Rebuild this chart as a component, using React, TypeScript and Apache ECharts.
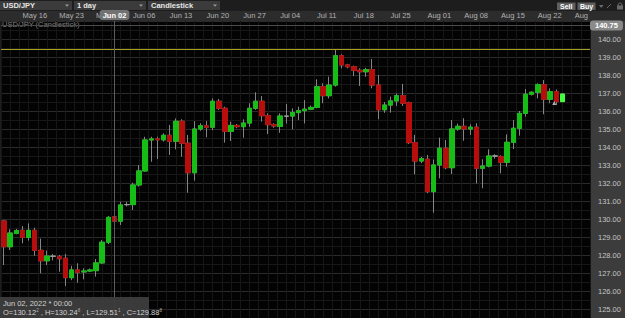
import React, { useEffect, useRef } from "react";
import * as echarts from "echarts";

// ---- categories (trading days, Sunday..Friday sessions) ----
const dates = [
  "May 12", "May 13",
  "May 15", "May 16", "May 17", "May 18", "May 19", "May 20",
  "May 22", "May 23", "May 24", "May 25", "May 26", "May 27",
  "May 29", "May 30", "May 31", "Jun 01", "Jun 02", "Jun 03",
  "Jun 05", "Jun 06", "Jun 07", "Jun 08", "Jun 09", "Jun 10",
  "Jun 12", "Jun 13", "Jun 14", "Jun 15", "Jun 16", "Jun 17",
  "Jun 19", "Jun 20", "Jun 21", "Jun 22", "Jun 23", "Jun 24",
  "Jun 26", "Jun 27", "Jun 28", "Jun 29", "Jun 30", "Jul 01",
  "Jul 03", "Jul 04", "Jul 05", "Jul 06", "Jul 07", "Jul 08",
  "Jul 10", "Jul 11", "Jul 12", "Jul 13", "Jul 14", "Jul 15",
  "Jul 17", "Jul 18", "Jul 19", "Jul 20", "Jul 21", "Jul 22",
  "Jul 24", "Jul 25", "Jul 26", "Jul 27", "Jul 28", "Jul 29",
  "Jul 31", "Aug 01", "Aug 02", "Aug 03", "Aug 04", "Aug 05",
  "Aug 07", "Aug 08", "Aug 09", "Aug 10", "Aug 11", "Aug 12",
  "Aug 14", "Aug 15", "Aug 16", "Aug 17", "Aug 18", "Aug 19",
  "Aug 21", "Aug 22", "Aug 23", "Aug 24", "Aug 25", "Aug 26",
  "Aug 28", "Aug 29", "Aug 30", "Aug 31",
];

const weekLabels = [
  "May 16", "May 23", "May 30", "Jun 06", "Jun 13", "Jun 20", "Jun 27", "Jul 04",
  "Jul 11", "Jul 18", "Jul 25", "Aug 01", "Aug 08", "Aug 15", "Aug 22", "Aug 29",
];

// ---- OHLC values ----
const opens = [
  129.89, 128.46, 129.2, 129.37, 128.98, 129.37, 128.26, 127.68, 127.93, 127.91,
  127.82, 126.74, 127.17, 127.06, 127.11, 127.13, 127.56, 128.71, 130.12, 129.88,
  130.8, 130.8, 131.89, 132.67, 134.39, 134.45, 134.4, 134.65, 134.32, 135.43,
  134.21, 132.57, 135.0, 135.18, 135.1, 136.54, 136.15, 134.87, 135.2, 135.13,
  135.33, 136.15, 136.54, 135.74, 135.24, 135.14, 135.71, 135.72, 135.91, 136.02,
  136.1, 136.2, 137.35, 136.85, 137.44, 139.07, 138.56, 138.46, 138.26, 138.18,
  138.3, 137.44, 136.07, 136.33, 136.56, 136.85, 136.46, 134.24, 133.22, 133.32,
  131.52, 133.0, 133.93, 132.85, 135.0, 135.15, 135.0, 135.1, 132.82, 132.94,
  133.5, 133.46, 133.15, 134.26, 135.04, 135.87, 136.93, 137.04, 137.46, 136.65,
  137.07, 136.52,
];
const closes = [
  128.46, 129.22, 129.36, 128.98, 129.37, 128.26, 127.68, 127.94, 127.93, 127.79,
  126.74, 127.17, 127.04, 127.11, 127.17, 127.56, 128.71, 130.09, 129.88, 130.78,
  130.8, 131.89, 132.67, 134.39, 134.45, 134.4, 134.65, 134.32, 135.43, 134.21,
  132.57, 135.0, 135.18, 135.1, 136.54, 136.15, 134.87, 135.2, 135.13, 135.33,
  136.15, 136.54, 135.74, 135.24, 135.17, 135.72, 135.71, 135.91, 136.02, 136.1,
  136.2, 137.35, 136.85, 137.44, 139.07, 138.56, 138.46, 138.26, 138.18, 138.3,
  137.44, 136.07, 136.33, 136.56, 136.85, 136.43, 134.24, 133.22, 133.35, 131.52,
  133.0, 133.93, 132.85, 135.0, 135.15, 135.0, 135.1, 132.82, 132.94, 133.5,
  133.5, 133.15, 134.26, 135.04, 135.87, 136.93, 137.04, 137.46, 136.65, 137.07,
  136.52, 136.94,
];
const lows = [
  127.44, 128.28, 129.15, 128.65, 128.8, 127.96, 126.98, 127.44, 127.7, 127.07,
  126.28, 126.6, 126.46, 126.65, 127.05, 126.8, 127.5, 128.6, 129.51, 129.67,
  130.7, 130.5, 131.8, 132.63, 133.18, 133.33, 134.3, 133.56, 133.87, 133.46,
  131.46, 132.13, 134.9, 134.54, 134.94, 136.06, 134.24, 134.33, 135.04, 134.52,
  135.13, 136.06, 135.41, 134.72, 135.07, 134.79, 135.3, 134.98, 135.5, 135.31,
  136.05, 136.15, 136.43, 136.7, 137.35, 138.37, 138.37, 137.94, 137.39, 137.9,
  137.26, 135.54, 135.9, 135.91, 136.28, 136.28, 134.17, 132.48, 133.1, 131.43,
  130.35, 132.26, 132.76, 132.5, 134.9, 134.35, 134.67, 131.98, 131.71, 132.87,
  133.35, 132.54, 132.9, 133.89, 134.63, 135.69, 136.86, 136.7, 135.82, 136.43,
  136.33, 136.5,
];
const highs = [
  129.95, 129.43, 129.45, 129.61, 129.76, 129.52, 128.91, 128.24, 128.05, 128.0,
  128.06, 127.4, 127.54, 127.26, 127.25, 127.78, 128.83, 130.17, 130.24, 130.96,
  130.95, 132.02, 133.0, 134.57, 134.57, 134.57, 134.76, 135.22, 135.59, 135.54,
  134.67, 135.44, 135.32, 135.44, 136.7, 136.67, 136.24, 135.41, 135.28, 135.54,
  136.43, 137.04, 136.83, 135.87, 135.32, 135.87, 136.39, 136.15, 136.24, 136.61,
  136.3, 137.76, 137.54, 137.91, 139.39, 139.15, 138.62, 138.52, 138.37, 138.4,
  138.89, 138.0, 136.5, 136.8, 136.98, 137.5, 136.52, 134.67, 133.45, 133.56,
  133.3, 134.52, 134.39, 135.5, 135.3, 135.6, 135.26, 135.32, 133.32, 133.87,
  133.6, 133.54, 134.7, 135.5, 136.0, 137.22, 137.1, 137.54, 137.72, 137.26,
  137.2, 136.98,
];

const yMin = 124.5;
const yMax = 141;
const crosshairDate = "Jun 02";
const crosshairPrice = 140.75;
const alertLevel = 139.43;
const cursorDate = "Aug 25";
const cursorPrice = 136.5;
const pipettes = ["2", "8", "1", "8"];

const FONT = '"Liberation Sans", Arial, sans-serif';
const GREEN = "#16bd16";
const RED = "#b80d0d";
const WICK = "#858585";
const DOJI = "#9a9a9a";
const LIVE = "#3dff3d";

export default function App() {
  const ref = useRef<HTMLDivElement>(null);

  useEffect(() => {
    document.body.style.margin = "0";
    const chart = echarts.init(ref.current as HTMLDivElement, null, { renderer: "svg" });

    const n = opens.length;
    const wickData = opens.map((o, i) => [o, closes[i], lows[i], highs[i]]);
    const bodyData = opens.map((o, i) => {
      const c = closes[i];
      const item: any = { value: [o, c, Math.min(o, c), Math.max(o, c)] };
      if (o === c) {
        item.itemStyle = { color: DOJI, color0: DOJI, borderColor: DOJI, borderColor0: DOJI };
      }
      if (i === n - 1) {
        item.itemStyle = { color: LIVE, color0: LIVE, borderColor: LIVE, borderColor0: LIVE };
      }
      return item;
    });

    const ci = dates.indexOf(crosshairDate);
    const info =
      `O=${opens[ci].toFixed(2)}{s|${pipettes[0]}} , H=${highs[ci].toFixed(2)}{s|${pipettes[1]}} , ` +
      `L=${lows[ci].toFixed(2)}{s|${pipettes[2]}} , C=${closes[ci].toFixed(2)}{s|${pipettes[3]}}`;

    const isWeek = (_i: number, v: string) => weekLabels.indexOf(v) >= 0;

    const boxText = (x: number, w: number, label: string) => [
      { type: "rect", z: 1, shape: { x, y: 1, width: w, height: 9 }, style: { fill: "#3b3b3b" } },
      {
        type: "text", z: 2, x: x + 3, y: 5.7,
        style: { text: label, fill: "#e6e6e6", font: `bold 7.5px ${FONT}`, verticalAlign: "middle" },
      },
      {
        type: "polygon", z: 2,
        shape: { points: [[x + w - 7, 4.5], [x + w - 3, 4.5], [x + w - 5, 6.8]] },
        style: { fill: "#9a9a9a" },
      },
    ];

    const option: any = {
      animation: false,
      backgroundColor: "#1d1d1d",
      textStyle: { fontFamily: FONT },
      grid: {
        left: 1, right: 35, top: 21, bottom: 0,
        show: true, backgroundColor: "#030303", borderWidth: 0,
      },
      xAxis: [
        {
          type: "category",
          data: dates,
          position: "top",
          boundaryGap: true,
          axisLine: { show: false },
          axisTick: { show: false },
          axisLabel: {
            interval: isWeek, align: "left", margin: 2,
            color: "#b2b2b2", fontSize: 7.5, fontFamily: FONT,
          },
          splitLine: { show: true, interval: isWeek, lineStyle: { color: "#2e2e2e", width: 1 } },
          axisPointer: {
            show: true, type: "line", value: ci, status: "show", snap: false, triggerTooltip: false,
            lineStyle: { color: "#5c5c5c", width: 1, type: "solid" },
            label: {
              show: true, backgroundColor: "#727272", color: "#ffffff", fontWeight: "bold",
              fontSize: 7.5, fontFamily: FONT, padding: [1, 3, 1, 3], margin: 1,
            },
          },
        },
        {
          type: "value", min: 0, max: dates.length, interval: 1.5, position: "bottom",
          axisLine: { show: false }, axisTick: { show: false }, axisLabel: { show: false },
          splitLine: { show: true, lineStyle: { color: "#161616", width: 1 } },
        },
      ],
      yAxis: {
        type: "value",
        position: "right",
        min: yMin,
        max: yMax,
        interval: 0.5,
        axisLine: { show: false },
        axisTick: { show: false },
        axisLabel: {
          margin: 8, align: "left", color: "#c4c4c4", fontSize: 7.5, fontFamily: FONT,
          formatter: (v: number) =>
            Math.abs(v - Math.round(v)) < 1e-6 && v < yMax - 0.01 ? v.toFixed(2) : "",
        },
        splitLine: { show: true, lineStyle: { color: ["#181818", "#2b2b2b"], width: 1 } },
        axisPointer: {
          show: true, type: "line", value: crosshairPrice, status: "show", snap: false, triggerTooltip: false,
          lineStyle: { color: "#4a4a4a", width: 1, type: "solid" },
          label: {
            show: true, backgroundColor: "#8a8a8a", color: "#ffffff", fontWeight: "bold",
            fontSize: 7.5, fontFamily: FONT, padding: [1, 5, 1, 5], margin: 0,
            formatter: (p: any) => Number(p.value).toFixed(2),
          },
        },
      },
      series: [
        {
          type: "candlestick",
          name: "wicks",
          barWidth: 5,
          data: wickData,
          itemStyle: {
            color: WICK, color0: WICK, borderColor: WICK, borderColor0: WICK, borderColorDoji: WICK,
            borderWidth: 1,
          },
          silent: true,
        },
        {
          type: "candlestick",
          name: "USD/JPY",
          barWidth: 5,
          data: bodyData,
          itemStyle: {
            color: GREEN, color0: RED, borderColor: GREEN, borderColor0: RED, borderColorDoji: DOJI,
            borderWidth: 1,
          },
          silent: true,
          markLine: {
            silent: true,
            symbol: "none",
            label: { show: false },
            lineStyle: { color: "#a8a21e", width: 1, type: "solid" },
            data: [{ yAxis: alertLevel }],
          },
          markPoint: {
            silent: true,
            label: { show: false },
            data: [
              {
                coord: [cursorDate, cursorPrice], symbol: "triangle", symbolSize: [4, 4],
                symbolOffset: [-2, 1], itemStyle: { color: "#b0b0b0" },
              },
            ],
          },
        },
      ],
      graphic: [
        // toolbar
        ...boxText(0, 72, "USD/JPY"),
        ...boxText(74, 72, "1 day"),
        ...boxText(148, 72, "Candlestick"),
        { type: "rect", z: 1, shape: { x: 557, y: 2.5, width: 18.5, height: 7.5 }, style: { fill: "#5e5e5e" } },
        { type: "text", z: 2, x: 566.2, y: 6.4, style: { text: "Sell", fill: "#ffffff", font: `bold 7px ${FONT}`, align: "center", verticalAlign: "middle" } },
        { type: "rect", z: 1, shape: { x: 577.5, y: 2.5, width: 18, height: 7.5 }, style: { fill: "#5e5e5e" } },
        { type: "text", z: 2, x: 586.5, y: 6.4, style: { text: "Buy", fill: "#ffffff", font: `bold 7px ${FONT}`, align: "center", verticalAlign: "middle" } },
        { type: "polygon", z: 2, shape: { points: [[599, 5], [603.5, 5], [601.2, 8]] }, style: { fill: "#6a6a6a" } },
        { type: "line", z: 2, shape: { x1: 607, y1: 8, x2: 611, y2: 4 }, style: { stroke: "#6a6a6a", lineWidth: 1 } },
        { type: "rect", z: 2, shape: { x: 617, y: 5.5, width: 6, height: 4 }, style: { fill: "#6a6a6a" } },
        { type: "circle", z: 2, shape: { cx: 620, cy: 5, r: 2 }, style: { fill: "none", stroke: "#6a6a6a", lineWidth: 1 } },
        // x-axis band and right price panel
        { type: "rect", z: -1, shape: { x: 0, y: 11, width: 625, height: 10 }, style: { fill: "#2c2c2c" } },
        { type: "rect", z: 1, shape: { x: 590, y: 11, width: 35, height: 10 }, style: { fill: "#2c2c2c" } },
        { type: "rect", z: -1, shape: { x: 590, y: 21, width: 35, height: 297 }, style: { fill: "#3c3c3c" } },
        // series title
        {
          type: "text", z: 10, x: 2, y: 24.5,
          style: { text: "USD/JPY (Candlestick)", fill: "#7c7c7c", font: `7.5px ${FONT}`, verticalAlign: "middle" },
        },
        // info box
        { type: "rect", z: 100, shape: { x: 0, y: 297, width: 149, height: 21 }, style: { fill: "rgba(62,62,62,0.94)" } },
        {
          type: "text", z: 101, x: 3, y: 303,
          style: {
            text: `${crosshairDate}, 2022 * 00:00`, fill: "#d2d2d2", font: `7.5px ${FONT}`, verticalAlign: "middle",
          },
        },
        {
          type: "text", z: 101, x: 3, y: 312,
          style: {
            text: info, fill: "#d2d2d2", font: `7.5px ${FONT}`, verticalAlign: "middle",
            rich: { s: { fontSize: 4.5, fill: "#b0b0b0", verticalAlign: "top", padding: [0, 0, 4, 0] } },
          },
        },
      ],
    };

    chart.setOption(option);
    return () => chart.dispose();
  }, []);

  return (
    <div
      ref={ref}
      style={{ position: "absolute", left: 0, top: 0, width: 625, height: 318 }}
    />
  );
}
